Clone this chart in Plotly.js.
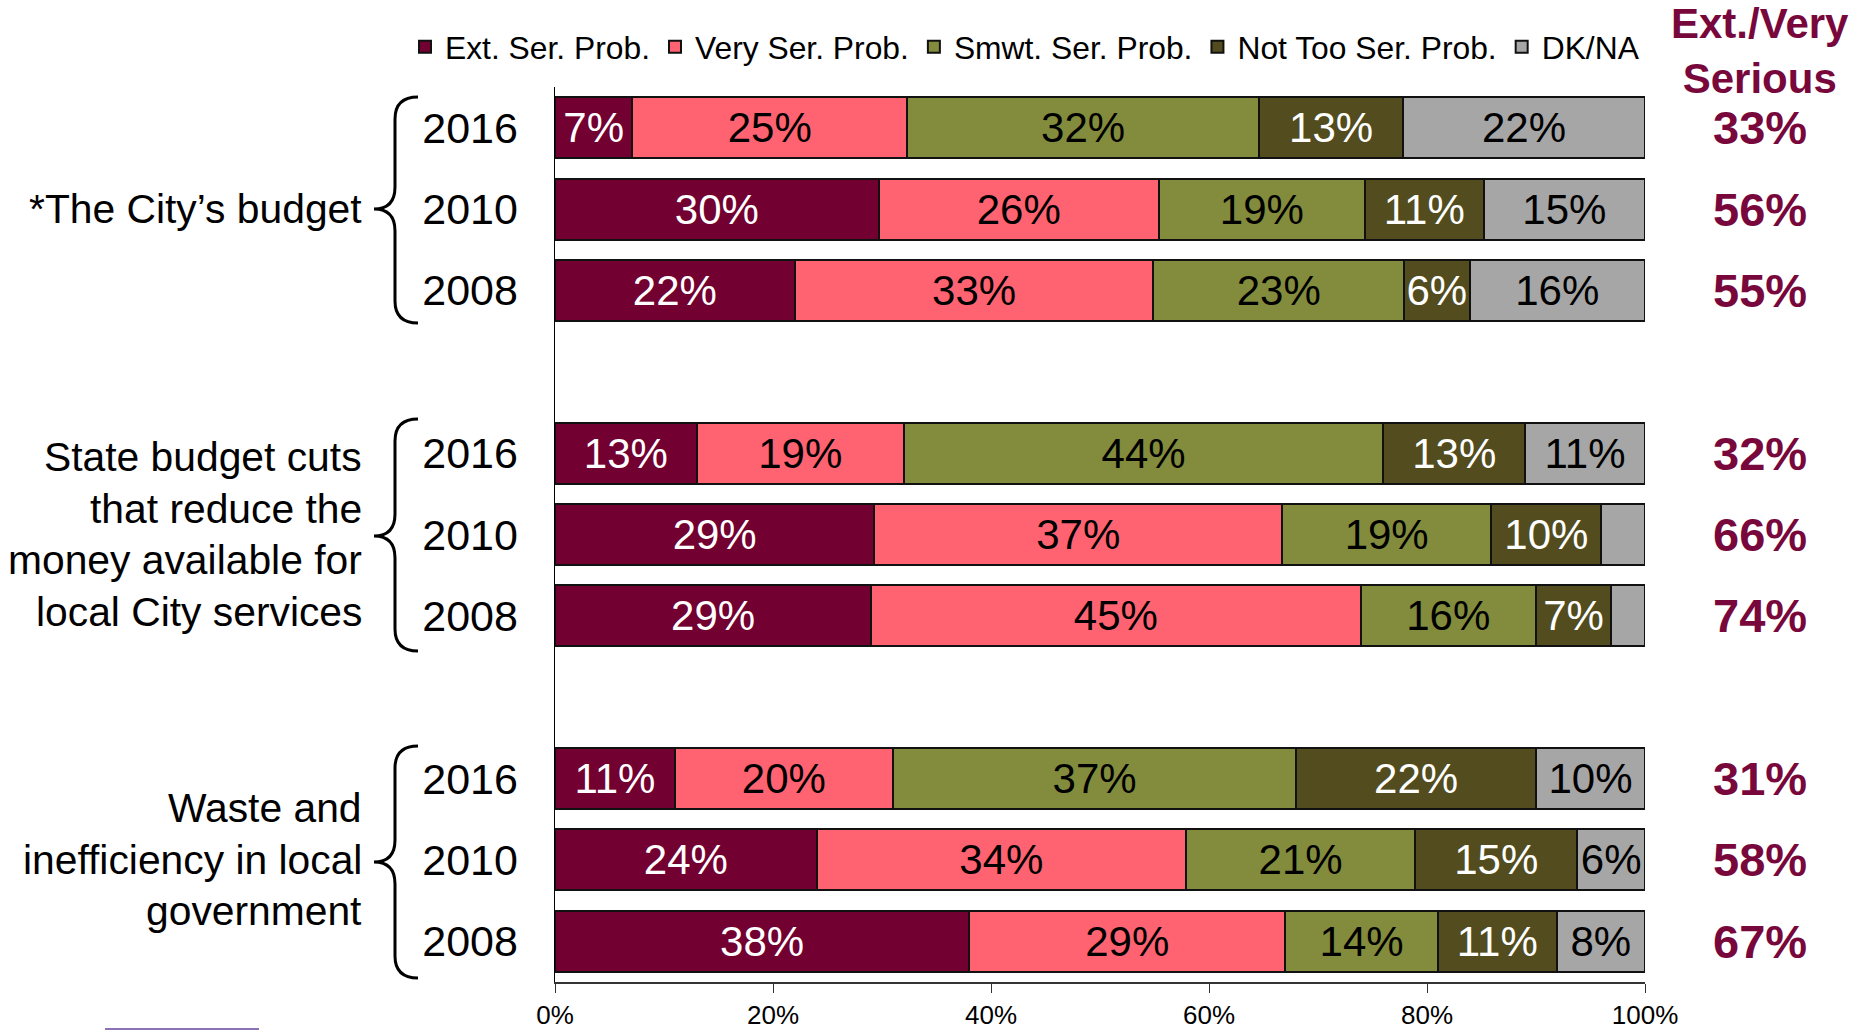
<!DOCTYPE html>
<html>
<head>
<meta charset="utf-8">
<script src="https://cdn.plot.ly/plotly-3.0.1.min.js"></script>
<style>html,body{margin:0;padding:0;background:#fff;}#chart{width:1865px;height:1030px;}</style>
</head>
<body>
<div id="chart"></div>
<script>
// ---- Data ----
const rows = ['City 2016','City 2010','City 2008','gap1','State 2016','State 2010','State 2008','gap2','Waste 2016','Waste 2010','Waste 2008'];
const yearRows = ['City 2016','City 2010','City 2008','State 2016','State 2010','State 2008','Waste 2016','Waste 2010','Waste 2008'];
const yearLabels = ['2016','2010','2008','2016','2010','2008','2016','2010','2008'];
const groupLabels = [
  ['*The City\u2019s budget'],
  ['State budget cuts', 'that reduce the', 'money available for', 'local City services'],
  ['Waste and', 'inefficiency in local', 'government']
];
const groupMidRows = ['City 2010','State 2010','Waste 2010'];
const seriesNames = ['Ext. Ser. Prob.','Very Ser. Prob.','Smwt. Ser. Prob.','Not Too Ser. Prob.','DK/NA'];
const extSer    = [7.1, 29.7, 22.0, null, 13.0, 29.3, 29.0, null, 11.0, 24.0, 38.0];
const verySer   = [25.2, 25.7, 32.9, null, 19.0, 37.4, 44.9, null, 20.0, 33.9, 29.0];
const smwtSer   = [32.3, 18.9, 23.0, null, 44.0, 19.2, 16.1, null, 37.0, 21.0, 14.0];
const notTooSer = [13.2, 10.9, 6.0, null, 13.0, 10.1, 6.9, null, 22.0, 14.9, 10.9];
const dkNa      = [22.2, 14.8, 16.1, null, 11.0, 4.0, 3.1, null, 10.0, 6.2, 8.1];
const extVery   = [33, 56, 55, null, 32, 66, 74, null, 31, 58, 67];
const xTicks = [0, 20, 40, 60, 80, 100];

// ---- Styles ----
const FONT = 'Liberation Sans, Arial, sans-serif';
const colors = ['#720030', '#FF6371', '#828C3C', '#524C1E', '#A6A6A6'];
const textColors = ['#ffffff', '#000000', '#000000', '#ffffff', '#000000'];
const accent = '#78083C';

const W = 1865, H = 1030;
const M = {l: 555, r: 220, t: 87, b: 48};
const PW = W - M.l - M.r, PH = H - M.t - M.b;
const px = x => (x - M.l) / PW;
const py = y => (H - M.b - y) / PH;

const seriesData = [extSer, verySer, smwtSer, notTooSer, dkNa];
const traces = seriesData.map((vals, k) => ({
  type: 'bar',
  orientation: 'h',
  name: seriesNames[k],
  y: rows,
  x: vals,
  marker: {color: colors[k], line: {color: '#111', width: 2}},
  texttemplate: k === 4 ? vals.map(v => (v !== null && v >= 5) ? '%{x:.0f}%' : '') : '%{x:.0f}%',
  textposition: 'inside',
  insidetextanchor: 'middle',
  textangle: 0,
  constraintext: 'none',
  insidetextfont: {family: FONT, size: 42, color: textColors[k]},
  hoverinfo: 'skip'
}));

// ---- Annotations ----
const annotations = [];
const LINE = 51.5;
groupLabels.forEach((lines, i) => {
  lines.forEach((t, j) => {
    annotations.push({xref: 'paper', x: px(364), xanchor: 'right', yref: 'y', y: groupMidRows[i], yanchor: 'middle',
      yshift: -((j - (lines.length - 1) / 2) * LINE),
      text: t, align: 'right', showarrow: false, font: {family: FONT, size: 40.8, color: '#000'}});
  });
});
rows.forEach((r, i) => {
  if (extVery[i] !== null) {
    annotations.push({xref: 'paper', x: px(1760), xanchor: 'center', yref: 'y', y: r, yanchor: 'middle',
      text: '<b>' + extVery[i] + '%</b>', showarrow: false, font: {family: FONT, size: 47, color: accent}});
  }
});
annotations.push({xref: 'paper', x: px(1760), xanchor: 'center', yref: 'paper', y: py(51), yanchor: 'middle',
  text: '<b>Ext./Very<br>Serious</b>', showarrow: false, font: {family: FONT, size: 42, color: accent}});

// ---- Braces ----
function bracePath(top, mid, bot) {
  const hx = 418, sx = 395, tx = 374, r = 22;
  const P = (x, y) => px(x) + ',' + py(y);
  return 'M' + P(hx, top) + ' Q' + P(sx, top) + ' ' + P(sx, top + r) +
         ' L' + P(sx, mid - r) + ' Q' + P(sx, mid) + ' ' + P(tx, mid) +
         ' Q' + P(sx, mid) + ' ' + P(sx, mid + r) +
         ' L' + P(sx, bot - r) + ' Q' + P(sx, bot) + ' ' + P(hx, bot);
}
const shapes = [
  {type: 'path', xref: 'paper', yref: 'paper', path: bracePath(97, 209, 323), line: {color: '#000', width: 3}},
  {type: 'path', xref: 'paper', yref: 'paper', path: bracePath(419, 536, 651), line: {color: '#000', width: 3}},
  {type: 'path', xref: 'paper', yref: 'paper', path: bracePath(746, 862, 978), line: {color: '#000', width: 3}},
  {type: 'line', xref: 'paper', yref: 'paper', x0: px(105), x1: px(259), y0: py(1029), y1: py(1029), line: {color: '#8E72B8', width: 2}}
];

const layout = {
  width: W, height: H,
  margin: M,
  paper_bgcolor: '#fff', plot_bgcolor: '#fff',
  barmode: 'stack',
  bargap: 0.25,
  showlegend: true,
  uniformtext: {mode: 'show', minsize: 42},
  font: {family: FONT, color: '#000'},
  legend: {orientation: 'h', x: px(405), xanchor: 'left', y: py(47), yanchor: 'middle',
    font: {family: FONT, size: 31.8, color: '#000'}, traceorder: 'normal', bgcolor: 'rgba(0,0,0,0)'},
  xaxis: {range: [0, 100], tickvals: xTicks, ticktext: xTicks.map(v => v + '%'), showgrid: false, zeroline: false,
    showline: true, linecolor: '#333', linewidth: 2, ticks: 'outside', ticklen: 9, tickcolor: '#333', tickwidth: 1,
    tickfont: {family: FONT, size: 26, color: '#000'}, fixedrange: true},
  yaxis: {type: 'category', categoryorder: 'array', categoryarray: rows, range: [rows.length - 0.5, -0.5],
    tickvals: yearRows, ticktext: yearLabels, showgrid: false, zeroline: false, showline: true, linecolor: '#000', linewidth: 1.5,
    ticks: '', ticklabelstandoff: 27, tickfont: {family: FONT, size: 43, color: '#000'}, fixedrange: true},
  annotations: annotations,
  shapes: shapes
};

Plotly.newPlot('chart', traces, layout, {displayModeBar: false, staticPlot: true});
</script>
</body>
</html>
